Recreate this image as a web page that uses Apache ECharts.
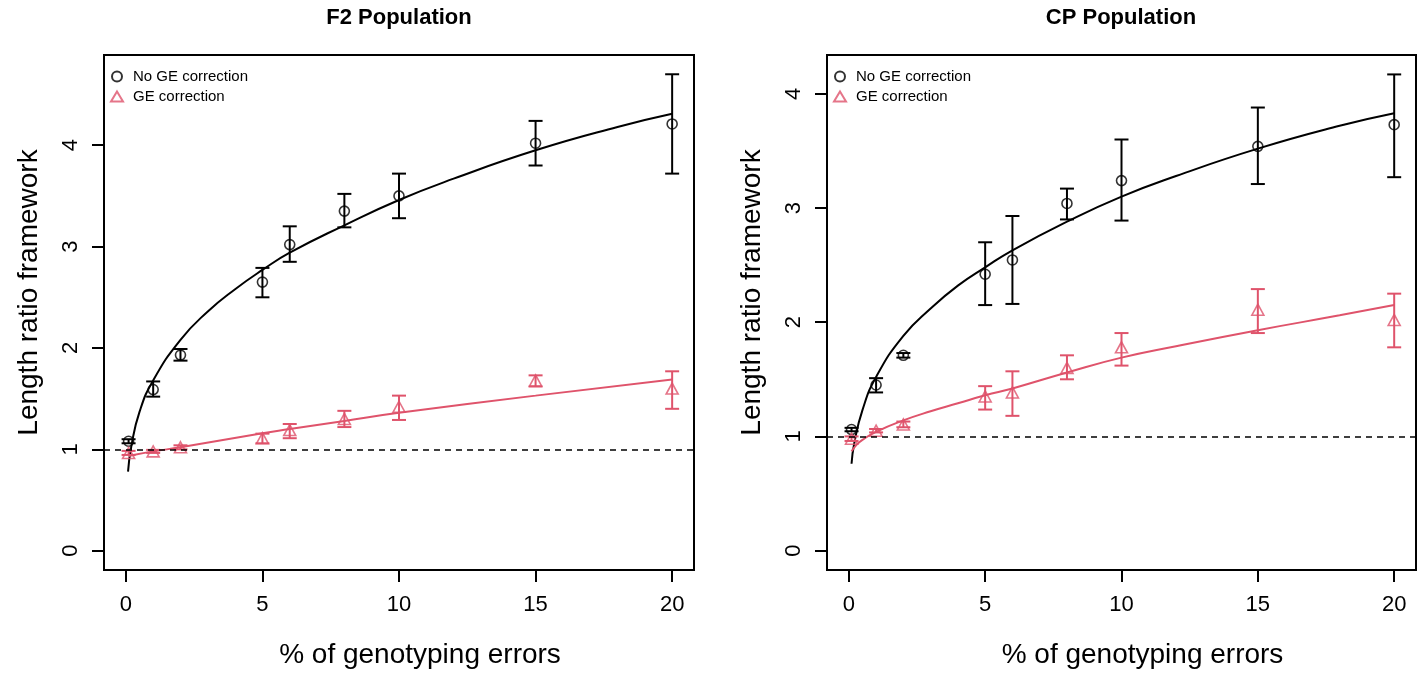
<!DOCTYPE html>
<html>
<head>
<meta charset="utf-8">
<script src="https://cdn.jsdelivr.net/npm/echarts@6/dist/echarts.min.js"></script>
<style>
  html, body { margin: 0; padding: 0; background: #fff; }
  #chart { width: 1418px; height: 674px; }
</style>
</head>
<body>
<div id="chart"></div>
<script>
// error rates (%) used in both panels
const errorPct = [0.1, 1, 2, 5, 6, 8, 10, 15, 20]
const xTicks = [0, 5, 10, 15, 20]
const yTicks = [0, 1, 2, 3, 4]

// F2 population
const f2NoCorr = [1.08, 1.59, 1.93, 2.65, 3.02, 3.35, 3.50, 4.02, 4.21]
const f2NoCorrLow = [1.06, 1.52, 1.875, 2.50, 2.85, 3.19, 3.28, 3.80, 3.72]
const f2NoCorrHigh = [1.10, 1.67, 1.99, 2.79, 3.20, 3.52, 3.72, 4.24, 4.70]
const f2Corr = [0.965, 0.98, 1.02, 1.11, 1.19, 1.30, 1.42, 1.68, 1.60]
const f2CorrLow = [0.945, 0.965, 1.0, 1.06, 1.11, 1.22, 1.29, 1.62, 1.40]
const f2CorrHigh = [0.985, 0.995, 1.04, 1.155, 1.25, 1.38, 1.53, 1.73, 1.77]

// CP population
const cpNoCorr = [1.06, 1.45, 1.71, 2.42, 2.545, 3.04, 3.24, 3.54, 3.73]
const cpNoCorrLow = [1.045, 1.385, 1.69, 2.15, 2.16, 2.90, 2.89, 3.21, 3.27]
const cpNoCorrHigh = [1.075, 1.51, 1.73, 2.70, 2.93, 3.17, 3.60, 3.88, 4.17]
const cpCorr = [0.98, 1.05, 1.105, 1.35, 1.385, 1.60, 1.78, 2.11, 2.02]
const cpCorrLow = [0.96, 1.035, 1.08, 1.235, 1.18, 1.50, 1.62, 1.905, 1.78]
const cpCorrHigh = [1.0, 1.065, 1.13, 1.44, 1.57, 1.71, 1.905, 2.29, 2.25]

// fitted curves
const f2FitNoX = [0.08, 0.2, 0.5, 1, 2, 3, 4, 5, 6, 8, 10, 12, 15, 18, 20]
const f2FitNoY = [0.78, 1.03, 1.37, 1.68, 2.08, 2.36, 2.58, 2.77, 2.94, 3.21, 3.46, 3.67, 3.95, 4.18, 4.31]
const f2FitGeX = [0.1, 1, 2, 5, 6, 8, 10, 15, 20]
const f2FitGeY = [0.935, 0.98, 1.02, 1.16, 1.20, 1.28, 1.36, 1.53, 1.69]
const cpFitNoX = [0.1, 0.2, 0.5, 1, 2, 3, 4, 5, 6, 8, 10, 12, 15, 18, 20]
const cpFitNoY = [0.76, 0.94, 1.23, 1.52, 1.88, 2.12, 2.32, 2.48, 2.63, 2.88, 3.10, 3.28, 3.52, 3.72, 3.83]
const cpFitGeX = [0.1, 0.3, 0.5, 1, 2, 3, 4, 5, 6, 8, 10, 12, 15, 18, 20]
const cpFitGeY = [0.87, 0.93, 0.97, 1.04, 1.14, 1.22, 1.29, 1.36, 1.42, 1.56, 1.69, 1.79, 1.93, 2.06, 2.15]

const RED = '#DF536B'
const FONT = "'Liberation Sans', Arial, Helvetica, sans-serif"

const zip = (xs, ys) => xs.map((x, i) => [x, ys[i]])
const bars = (lo, hi) => errorPct.map((x, i) => [x, lo[i], hi[i]])

function errorBar (params, api) {
  const x = api.value(0)
  const lo = api.coord([x, api.value(1)])
  const hi = api.coord([x, api.value(2)])
  const half = 7
  const style = { stroke: api.visual('color'), lineWidth: 2 }
  return {
    type: 'group',
    children: [
      { type: 'line', shape: { x1: lo[0], y1: lo[1], x2: hi[0], y2: hi[1] }, style },
      { type: 'line', shape: { x1: lo[0] - half, y1: lo[1], x2: lo[0] + half, y2: lo[1] }, style },
      { type: 'line', shape: { x1: hi[0] - half, y1: hi[1], x2: hi[0] + half, y2: hi[1] }, style }
    ]
  }
}

function xAxisFor (idx) {
  return {
    gridIndex: idx,
    type: 'value',
    min: -0.8,
    max: 20.8,
    axisLine: { show: false, onZero: false },
    splitLine: { show: false },
    axisTick: { show: true, length: 12, customValues: xTicks, lineStyle: { color: '#000', width: 2 } },
    axisLabel: { customValues: xTicks, fontSize: 22, color: '#000', margin: 24, fontFamily: FONT },
    name: '% of genotyping errors',
    nameLocation: 'middle',
    nameGap: 71,
    // the label sits a little right of the plot centre in the original
    nameTextStyle: { fontSize: 28, color: '#000', fontFamily: FONT, padding: [0, 0, 0, 42] }
  }
}

function yAxisFor (idx, min, max) {
  return {
    gridIndex: idx,
    type: 'value',
    min: min,
    max: max,
    axisLine: { show: false, onZero: false },
    splitLine: { show: false },
    axisTick: { show: true, length: 12, customValues: yTicks, lineStyle: { color: '#000', width: 2 } },
    axisLabel: { customValues: yTicks, rotate: 90, fontSize: 22, color: '#000', margin: 22, fontFamily: FONT },
    name: 'Length ratio framework',
    nameLocation: 'middle',
    nameRotate: 90,
    nameGap: 61,
    nameTextStyle: { fontSize: 28, color: '#000', fontFamily: FONT, padding: [0, 0, 0, 40] }
  }
}

function panelSeries (idx, noCorr, noLo, noHi, ge, geLo, geHi, fitNoX, fitNoY, fitGeX, fitGeY) {
  return [
    {
      type: 'line',
      xAxisIndex: idx,
      yAxisIndex: idx,
      data: zip(fitNoX, fitNoY),
      smooth: true,
      showSymbol: false,
      lineStyle: { color: '#000', width: 2 },
      z: 2
    },
    {
      type: 'line',
      xAxisIndex: idx,
      yAxisIndex: idx,
      data: zip(fitGeX, fitGeY),
      smooth: true,
      showSymbol: false,
      lineStyle: { color: RED, width: 2 },
      z: 2,
      markLine: {
        silent: true,
        symbol: ['none', 'none'],
        label: { show: false },
        lineStyle: { color: '#000', type: [6, 5], width: 1.5 },
        data: [{ yAxis: 1 }]
      }
    },
    {
      name: 'No GE correction',
      type: 'scatter',
      xAxisIndex: idx,
      yAxisIndex: idx,
      data: zip(errorPct, noCorr),
      symbol: 'circle',
      symbolSize: 10,
      itemStyle: { color: 'transparent', borderColor: '#000', borderWidth: 1.6 },
      z: 3
    },
    {
      name: 'GE correction',
      type: 'scatter',
      xAxisIndex: idx,
      yAxisIndex: idx,
      data: zip(errorPct, ge),
      symbol: 'triangle',
      symbolSize: [12, 11],
      itemStyle: { color: 'transparent', borderColor: RED, borderWidth: 1.6 },
      z: 3
    },
    {
      type: 'custom',
      xAxisIndex: idx,
      yAxisIndex: idx,
      data: bars(noLo, noHi),
      renderItem: errorBar,
      itemStyle: { color: '#000' },
      z: 4
    },
    {
      type: 'custom',
      xAxisIndex: idx,
      yAxisIndex: idx,
      data: bars(geLo, geHi),
      renderItem: errorBar,
      itemStyle: { color: RED },
      z: 4
    }
  ]
}

function legendFor (left) {
  return {
    orient: 'vertical',
    left: left,
    top: 64,
    itemWidth: 12,
    itemHeight: 10,
    itemGap: 5,
    selectedMode: false,
    textStyle: { fontSize: 15, color: '#000', fontFamily: FONT, padding: [0, 0, 0, 5] },
    data: ['No GE correction', 'GE correction']
  }
}

const chart = echarts.init(document.getElementById('chart'), null, { renderer: 'canvas' })
chart.setOption({
  animation: false,
  backgroundColor: '#fff',
  textStyle: { fontFamily: FONT },
  graphic: [
    { type: 'text', x: 399, y: 18, style: { text: 'F2 Population', align: 'center', verticalAlign: 'middle', font: 'bold 22px ' + FONT, fill: '#000' } },
    { type: 'text', x: 1121, y: 18, style: { text: 'CP Population', align: 'center', verticalAlign: 'middle', font: 'bold 22px ' + FONT, fill: '#000' } }
  ],
  legend: [legendFor(105), legendFor(828)],
  grid: [
    { left: 104, top: 55, width: 590, height: 516, show: true, borderColor: '#000', borderWidth: 2, backgroundColor: 'transparent' },
    { left: 827, top: 55, width: 589, height: 516, show: true, borderColor: '#000', borderWidth: 2, backgroundColor: 'transparent' }
  ],
  xAxis: [xAxisFor(0), xAxisFor(1)],
  yAxis: [yAxisFor(0, -0.19, 4.89), yAxisFor(1, -0.17, 4.34)],
  series: [
    ...panelSeries(0, f2NoCorr, f2NoCorrLow, f2NoCorrHigh, f2Corr, f2CorrLow, f2CorrHigh, f2FitNoX, f2FitNoY, f2FitGeX, f2FitGeY),
    ...panelSeries(1, cpNoCorr, cpNoCorrLow, cpNoCorrHigh, cpCorr, cpCorrLow, cpCorrHigh, cpFitNoX, cpFitNoY, cpFitGeX, cpFitGeY)
  ]
})
</script>
</body>
</html>
